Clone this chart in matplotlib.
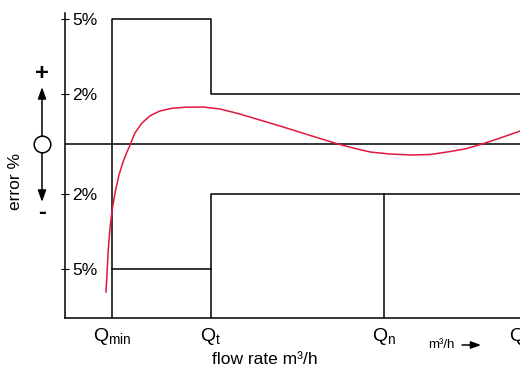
import matplotlib
matplotlib.use("Agg")
import matplotlib.pyplot as plt
from matplotlib.lines import Line2D

plt.rcParams['font.family'] = ['Liberation Sans', 'DejaVu Sans']
plt.rcParams['mathtext.fontset'] = 'custom'
plt.rcParams['mathtext.rm'] = 'Liberation Sans'

W, H = 520, 369

# flow marks (arbitrary flow units)
q_names = [r'$\mathregular{Q_{min}}$', r'$\mathregular{Q_{t}}$',
           r'$\mathregular{Q_{n}}$', r'$\mathregular{Q_{max}}$']
q_min, q_t, q_n, q_max = 1.01, 3.14, 6.86, 10.02

# permissible error limits, %
limit_low_zone = 5
limit_high_zone = 2

ytick_vals = [5, 2, -2, -5]
ytick_labels = ['5%', '2%', '2%', '5%']

# meter error curve
curve_x = [0.88, 0.90, 0.93, 0.97, 1.02, 1.08, 1.12, 1.16, 1.25, 1.33,
           1.40, 1.50, 1.65, 1.83, 2.04, 2.30, 2.58, 2.97, 3.33, 3.55,
           3.76, 4.19, 4.62, 4.90, 5.38, 5.87, 6.24, 6.56, 6.99, 7.46,
           7.85, 8.22, 8.60, 8.97, 9.36, 9.79, 10.0]
curve_y = [-5.92, -5.32, -4.24, -3.32, -2.56, -1.92, -1.58, -1.24, -0.71, -0.33,
           -0.04, 0.43, 0.83, 1.13, 1.32, 1.43, 1.47, 1.48, 1.40, 1.30,
           1.20, 0.96, 0.72, 0.56, 0.28, 0.00, -0.18, -0.32, -0.40, -0.44,
           -0.42, -0.32, -0.20, 0.00, 0.24, 0.52, 0.62]

XMAX = 10.3
YMIN, YMAX = -6.96, 5.24


def fp(x, y):
    """pixel position (top-left origin) -> figure fraction"""
    return x / W, 1 - y / H


fig = plt.figure(figsize=(W / 100, H / 100), dpi=100)
ax = fig.add_axes([65 / W, (H - 318) / H, XMAX * 46.5 / W, 305 / H])
ax.set_xlim(0, XMAX)
ax.set_ylim(YMIN, YMAX)

lw = 1.1
k = 'black'
# zero line
ax.plot([0, XMAX], [0, 0], color=k, lw=lw)
# upper limits
ax.plot([q_min, q_min, q_t, q_t, XMAX],
        [YMIN, limit_low_zone, limit_low_zone, limit_high_zone, limit_high_zone],
        color=k, lw=lw)
# lower limits
ax.plot([q_min, q_t], [-limit_low_zone, -limit_low_zone], color=k, lw=lw)
ax.plot([q_t, q_t, XMAX], [YMIN, -limit_high_zone, -limit_high_zone], color=k, lw=lw)
ax.plot([q_n, q_n], [YMIN, -limit_high_zone], color=k, lw=lw)

ax.plot(curve_x, curve_y, color='#e2173f', lw=1.1)

for s in ['top', 'right']:
    ax.spines[s].set_visible(False)
for s in ['left', 'bottom']:
    ax.spines[s].set_linewidth(lw)

ax.set_yticks(ytick_vals, labels=ytick_labels)
ax.tick_params(axis='y', direction='inout', length=6, width=0.8, pad=-8, labelsize=12.5)
for lab in ax.get_yticklabels():
    lab.set_horizontalalignment('left')

ax.set_xticks([q_min, q_t, q_n, q_max], labels=q_names)
ax.tick_params(axis='x', length=0, pad=6, labelsize=14)

# axis titles
fig.text(*fp(265, 359), 'flow rate m³/h', ha='center', va='center', fontsize=12.5)
fig.text(*fp(15, 182), 'error %', ha='center', va='center', rotation=90, fontsize=12.5)
fig.text(*fp(441, 345), 'm³/h', ha='center', va='center', fontsize=9.5)
ax.annotate('', xy=fp(481, 345), xytext=fp(462, 345), xycoords='figure fraction',
            arrowprops=dict(arrowstyle='-|>,head_length=0.6,head_width=0.22',
                            color=k, lw=1.1, shrinkA=0, shrinkB=0))

# +/- indicator
fig.text(*fp(42, 74), '+', ha='center', va='center', fontsize=17, fontweight='bold')
fig.text(*fp(42, 213), '-', ha='center', va='center', fontsize=17, fontweight='bold')
ax.annotate('', xy=fp(42, 87), xytext=fp(42, 137), xycoords='figure fraction',
            arrowprops=dict(arrowstyle='-|>,head_length=0.7,head_width=0.25',
                            color=k, lw=1.1, shrinkA=0, shrinkB=0))
ax.annotate('', xy=fp(42, 202), xytext=fp(42, 151), xycoords='figure fraction',
            arrowprops=dict(arrowstyle='-|>,head_length=0.7,head_width=0.25',
                            color=k, lw=1.1, shrinkA=0, shrinkB=0))
fig.add_artist(Line2D([42 / W], [1 - 144 / H], marker='o', ms=12, mfc='white',
                      mec=k, mew=1.1, transform=fig.transFigure))

fig.savefig('out.png', dpi=100)
